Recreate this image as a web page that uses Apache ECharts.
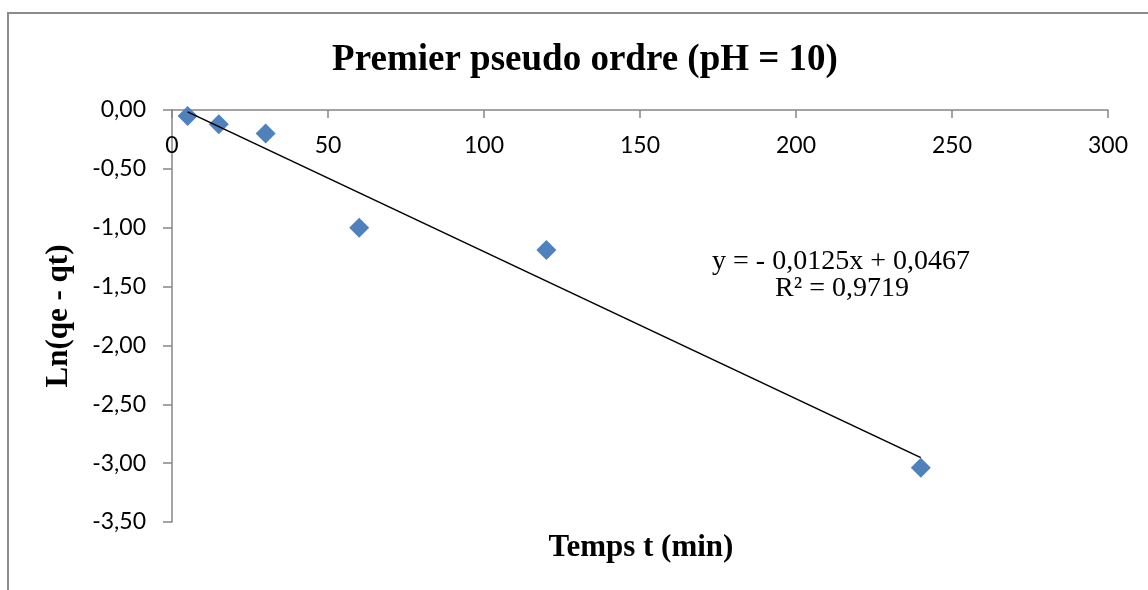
<!DOCTYPE html>
<html>
<head>
<meta charset="utf-8">
<script src="https://cdn.jsdelivr.net/npm/echarts@6/dist/echarts.min.js"></script>
<style>
  html, body { margin: 0; padding: 0; background: #fff; }
  #chart { width: 1148px; height: 590px; }
</style>
</head>
<body>
<div id="chart"></div>
<script>
// temps t (min) et Ln(qe - qt)
var tempsX = [5, 15, 30, 60, 120, 240];
var lnY = [-0.05, -0.12, -0.20, -1.00, -1.19, -3.04];

// extrémités de la droite de tendance
var trendX = [5, 240];
var trendY = [-0.016, -2.953];

var equationLines = ['y = - 0,0125x + 0,0467', 'R² = 0,9719'];

var serif = '"Liberation Serif", "Times New Roman", serif';
var sans = 'Lato, "Liberation Sans", sans-serif';
var axisGray = '#868686';

//formatage des nombres à la française
function fr(v) {
    return v.toFixed(2).replace('.', ',');
}

var points = tempsX.map(function (x, i) { return [x, lnY[i]]; });
var trend = trendX.map(function (x, i) { return [x, trendY[i]]; });

var chart = echarts.init(document.getElementById('chart'));
chart.setOption({
    animation: false,
    backgroundColor: '#fff',
    title: {
        text: 'Premier pseudo ordre (pH = 10)',
        left: 580,
        top: 37,
        textAlign: 'center',
        textStyle: { fontFamily: serif, fontSize: 37, fontWeight: 'bold', color: '#000' }
    },
    grid: { left: 172, top: 110, right: 40, bottom: 68, outerBoundsMode: 'none', containLabel: false },
    xAxis: {
        type: 'value',
        position: 'top',
        min: 0,
        max: 300,
        interval: 50,
        axisLine: { onZero: false, lineStyle: { color: axisGray, width: 1.5 } },
        axisTick: { show: true, inside: true, length: 8, lineStyle: { color: axisGray, width: 1.5 } },
        axisLabel: { inside: true, margin: 24, fontFamily: sans, fontSize: 23, color: '#000', hideOverlap: false },
        splitLine: { show: false }
    },
    yAxis: {
        type: 'value',
        min: -3.5,
        max: 0,
        interval: 0.5,
        name: 'Ln(qe - qt)',
        nameLocation: 'middle',
        nameRotate: 90,
        nameGap: 98,
        nameTextStyle: { fontFamily: serif, fontSize: 31, fontWeight: 'bold', color: '#000' },
        axisLine: { show: true, onZero: false, lineStyle: { color: axisGray, width: 1.5 } },
        axisTick: { show: true, length: 9, lineStyle: { color: axisGray, width: 1.5 } },
        axisLabel: { margin: 26, fontFamily: sans, fontSize: 23, color: '#000', formatter: fr, hideOverlap: false },
        splitLine: { show: false }
    },
    series: [
        {
            type: 'scatter',
            data: points,
            symbol: 'diamond',
            symbolSize: [20, 20],
            itemStyle: { color: '#4F81BD', opacity: 1 },
            z: 2
        },
        {
            type: 'line',
            data: trend,
            symbol: 'none',
            lineStyle: { color: '#000', width: 1.6 },
            z: 3
        }
    ],
    graphic: [
        {
            type: 'rect',
            shape: { x: 8, y: 13, width: 1300, height: 800 },
            style: { fill: null, stroke: '#8c8c8c', lineWidth: 2 },
            silent: true
        },
        {
            type: 'text',
            x: 641,
            y: 548,
            style: {
                text: 'Temps t (min)',
                font: 'bold 31px ' + serif,
                fill: '#000',
                textAlign: 'center',
                textVerticalAlign: 'middle'
            }
        },
        {
            type: 'text',
            x: 841,
            y: 262,
            style: {
                text: equationLines[0],
                font: '28px ' + serif,
                fill: '#000',
                textAlign: 'center',
                textVerticalAlign: 'middle'
            }
        },
        {
            type: 'text',
            x: 842,
            y: 289,
            style: {
                text: equationLines[1],
                font: '28px ' + serif,
                fill: '#000',
                textAlign: 'center',
                textVerticalAlign: 'middle'
            }
        }
    ]
});
</script>
</body>
</html>
